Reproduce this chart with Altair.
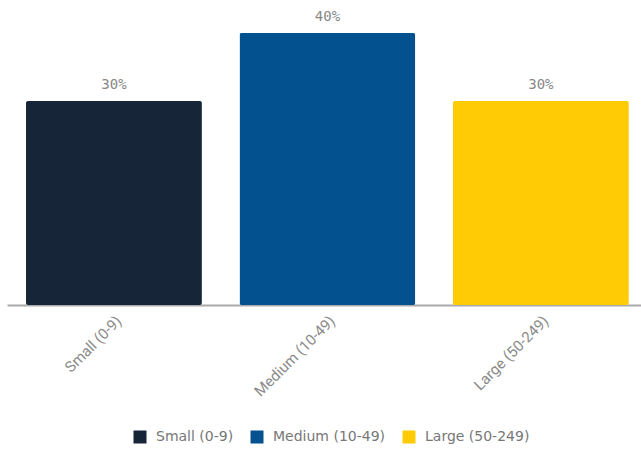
import altair as alt
import pandas as pd

categories = ["Small (0-9)", "Medium (10-49)", "Large (50-249)"]
values = [30, 40, 30]
labels = ["30%", "40%", "30%"]
colors = ["#172538", "#03528f", "#ffcb05"]

df = pd.DataFrame({"size": categories, "value": values, "label": labels})

x = alt.X("size:N", sort=categories, title=None,
          scale=alt.Scale(paddingInner=0.176, paddingOuter=0.073, align=0.61),
          axis=alt.Axis(labelAngle=-45, labelColor="#8a8a8a", labelFontSize=15,
                        labelFont="Roboto", ticks=False, domainColor="#aaaaaa",
                        domainWidth=2, labelPadding=8, grid=False))
y = alt.Y("value:Q", scale=alt.Scale(domain=[0, 40], nice=False), axis=None)

bars = alt.Chart(df).mark_bar(cornerRadius=2).encode(
    x=x, y=y,
    color=alt.Color("size:N", sort=categories,
                    scale=alt.Scale(domain=categories, range=colors),
                    legend=alt.Legend(title=None, orient="none", direction="horizontal",
                                      legendX=126, legendY=397, symbolType="square",
                                      symbolSize=169, symbolStrokeWidth=0,
                                      labelFontSize=14, labelColor="#777777",
                                      labelFont="DejaVu Sans", columnPadding=16,
                                      labelOffset=9, symbolOpacity=1))
)

text = alt.Chart(df).mark_text(dy=-16, fontSize=14, color="#888888",
                               font="DejaVu Sans Mono").encode(
    x=alt.X("size:N", sort=categories), y=y, text="label:N"
)

chart = (bars + text).properties(
    width=634, height=272,
    padding={"left": 7, "top": 33, "right": 0, "bottom": 145},
    autosize=alt.AutoSizeParams(type="none"),
).configure_view(stroke=None)

chart.save("out.html", embed_options={"renderer": "svg", "actions": False})
